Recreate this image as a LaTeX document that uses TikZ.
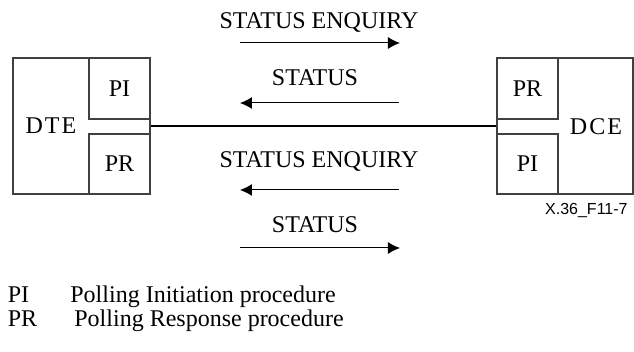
\documentclass[tikz,border=0pt]{standalone}
\usepackage{fontspec}
\setmainfont{Liberation Serif}
\setsansfont{Liberation Sans}
\usepackage{tikz}
\usetikzlibrary{arrows.meta}

\begin{document}
\begin{tikzpicture}[x=0.5pt,y=-0.5pt,>={Latex[length=6pt,width=6pt]},
		font=\fontsize{12pt}{14pt}\selectfont,
		unit box/.style={draw=black!75,line width=0.55pt,minimum width=68.5pt,minimum height=68pt,inner sep=0pt},
		proc box/.style={draw=black!75,line width=0.55pt,minimum width=30.5pt,minimum height=30.5pt,inner sep=0pt},
		msg/.style={anchor=base,inner sep=0pt},
		msg arrow/.style={->,line width=0.5pt},
		key/.style={anchor=base west,inner sep=0pt}]

			\useasboundingbox (0,0) rectangle (634,352);

			% Boxes
			% DTE side
			\node[unit box] (dte) at (81.5,126) {};
			\node[proc box] (dtepi) at (119.5,88.5) {PI};
			\node[proc box,minimum height=30pt] (dtepr) at (119.5,164) {PR};
			\node[inner sep=0pt] (dtelabel) at (51,126) {D\kern1pt T\kern1pt E};

			% DCE side
			\node[unit box,minimum width=68pt] (dce) at (565,126) {};
			\node[proc box] (dcepr) at (527.5,88.5) {PR};
			\node[proc box,minimum height=30pt] (dcepi) at (527.5,164) {PI};
			\node[inner sep=0pt] (dcelabel) at (596,127) {D\kern1pt C\kern1pt E};

			% Link
			\draw[line width=0.9pt] (dte.east) -- (dce.west);

			% Messages
			\node[msg] (enq1) at (319,29) {STATUS ENQUIRY};
			\node[msg] (stat1) at (315,86) {STATUS};
			\node[msg] (enq2) at (319,168) {STATUS ENQUIRY};
			\node[msg] (stat2) at (315,233) {STATUS};

			\coordinate (a1l) at (240,43);
			\coordinate (a1r) at (400,43);
			\coordinate (a2l) at (240,103);
			\coordinate (a2r) at (399,103);
			\coordinate (a3l) at (240,190);
			\coordinate (a3r) at (399,190);
			\coordinate (a4l) at (240,248);
			\coordinate (a4r) at (400,248);

			\draw[msg arrow] (a1l) -- (a1r);
			\draw[msg arrow] (a2r) -- (a2l);
			\draw[msg arrow] (a3r) -- (a3l);
			\draw[msg arrow] (a4l) -- (a4r);

			% Figure number
			\node[anchor=base east,inner sep=0pt,font=\sffamily\fontsize{8pt}{9pt}\selectfont] (fig) at (628,215) {X.36\_F11-7};

			% Key
			\node[key] (pikey) at (7.5,303) {PI};
			\node[key] (pitext) at (70,303) {Polling Initiation procedure};
			\node[key] (prkey) at (7.5,327) {PR};
			\node[key] (prtext) at (74,327) {Polling Response procedure};
		\end{tikzpicture}
\end{document}
